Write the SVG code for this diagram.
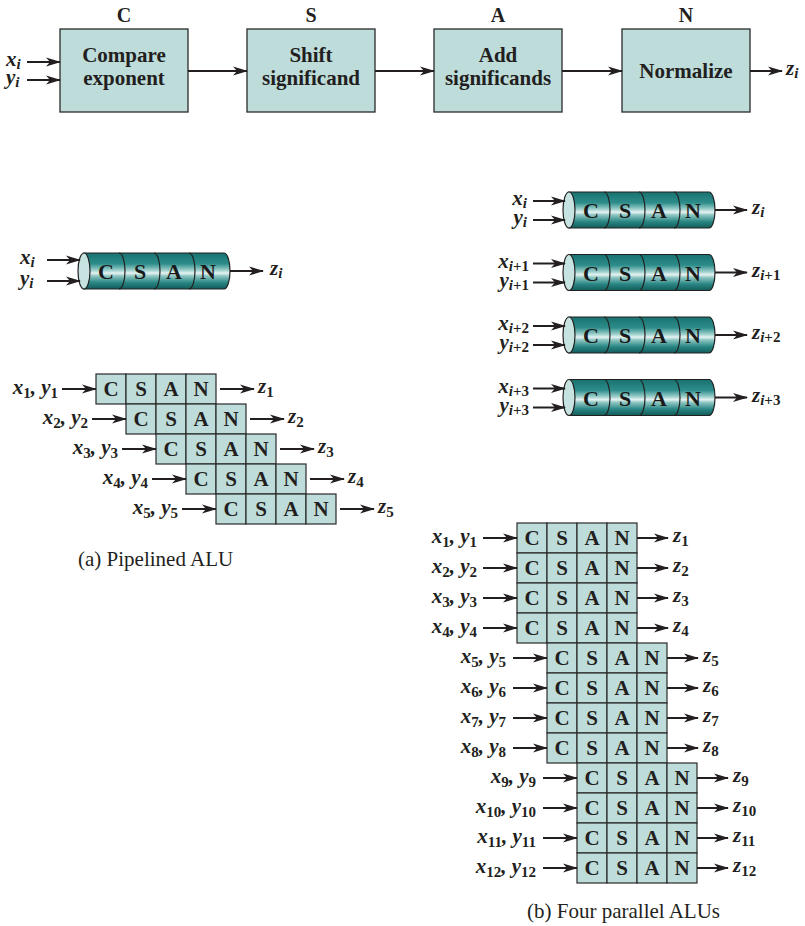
<svg xmlns="http://www.w3.org/2000/svg" width="805" height="926" viewBox="0 0 805 926">
<style>
.bx{fill:#bddcda;stroke:#2a2a2a;stroke-width:1.3}
.cell{fill:#bddcda;stroke:#2a2a2a;stroke-width:1.2}
.b{font-family:"Liberation Serif","Times New Roman",serif;font-weight:bold;font-size:21px;text-anchor:middle;fill:#231f20}
.bc{font-family:"Liberation Serif","Times New Roman",serif;font-weight:bold;font-size:22px;text-anchor:middle;fill:#1a1a1a}
.h{font-family:"Liberation Serif","Times New Roman",serif;font-weight:bold;font-size:20px;text-anchor:middle;fill:#231f20}
.v{font-family:"Liberation Serif","Times New Roman",serif;font-style:italic;font-weight:bold;font-size:21px;fill:#231f20}
.s{font-size:15px;font-style:normal}
.si{font-size:15px}
.cap{font-family:"Liberation Serif","Times New Roman",serif;font-size:21px;fill:#231f20}
.ar{stroke:#231f20;stroke-width:2;fill:none;marker-end:url(#ah)}
.cs{stroke:#222;stroke-width:1.2}
</style>
<defs>
<marker id="ah" markerWidth="15" markerHeight="10" refX="14" refY="5" orient="auto" markerUnits="userSpaceOnUse">
<path d="M0,0.5 L15,5 L0,9.5 L4,5 Z" fill="#231f20"/>
</marker>
<linearGradient id="cg" x1="0" y1="0" x2="0" y2="1">
<stop offset="0" stop-color="#17716f"/>
<stop offset="0.3" stop-color="#2d8d8a"/>
<stop offset="0.48" stop-color="#9fd0cd"/>
<stop offset="0.56" stop-color="#e6f3f2"/>
<stop offset="0.64" stop-color="#8cc5c2"/>
<stop offset="0.82" stop-color="#2a8784"/>
<stop offset="1" stop-color="#115b59"/>
</linearGradient>
<g id="cylshape">
<path d="M6,-18 H146 A6,18 0 0 1 146,18 H6 Z" fill="url(#cg)" class="cs"/>
<path d="M41,-18 A6,18 0 0 1 41,18 M76,-18 A6,18 0 0 1 76,18 M111,-18 A6,18 0 0 1 111,18" fill="none" class="cs"/>
<ellipse cx="6" cy="0" rx="6" ry="18" fill="#c6e3e1" class="cs"/>
</g>
<g id="row4">
<rect class="cell" x="0" y="0" width="30" height="30"/>
<rect class="cell" x="30" y="0" width="30" height="30"/>
<rect class="cell" x="60" y="0" width="30" height="30"/>
<rect class="cell" x="90" y="0" width="30" height="30"/>
</g>
</defs>
<rect width="805" height="926" fill="#ffffff"/>

<!-- Top sequential pipeline -->
<g id="top-headers">
<text class="h" x="124" y="22">C</text>
<text class="h" x="311" y="22">S</text>
<text class="h" x="498" y="22">A</text>
<text class="h" x="686" y="22">N</text>
</g>
<g id="box-compare">
<rect class="bx" x="60" y="29" width="128" height="83"/>
<text class="b" x="124" y="62">Compare</text>
<text class="b" x="124" y="85">exponent</text>
</g>
<g id="box-shift">
<rect class="bx" x="247" y="29" width="128" height="83"/>
<text class="b" x="311" y="62">Shift</text>
<text class="b" x="311" y="85">significand</text>
</g>
<g id="box-add">
<rect class="bx" x="434" y="29" width="128" height="83"/>
<text class="b" x="498" y="62">Add</text>
<text class="b" x="498" y="85">significands</text>
</g>
<g id="box-normalize">
<rect class="bx" x="622" y="29" width="128" height="83"/>
<text class="b" x="686" y="78">Normalize</text>
</g>

<!-- Single cylinder -->
<g id="cyl-single" transform="translate(78,271)">
<use href="#cylshape"/>
<text class="bc" x="28" y="8">C</text>
<text class="bc" x="62" y="8">S</text>
<text class="bc" x="96" y="8">A</text>
<text class="bc" x="130" y="8">N</text>
</g>

<!-- Parallel cylinders -->
<g id="cyl-p0" transform="translate(563,210)">
<use href="#cylshape"/>
<text class="bc" x="28" y="8">C</text><text class="bc" x="62" y="8">S</text><text class="bc" x="96" y="8">A</text><text class="bc" x="130" y="8">N</text>
</g>
<g id="cyl-p1" transform="translate(563,272.5)">
<use href="#cylshape"/>
<text class="bc" x="28" y="8">C</text><text class="bc" x="62" y="8">S</text><text class="bc" x="96" y="8">A</text><text class="bc" x="130" y="8">N</text>
</g>
<g id="cyl-p2" transform="translate(563,335)">
<use href="#cylshape"/>
<text class="bc" x="28" y="8">C</text><text class="bc" x="62" y="8">S</text><text class="bc" x="96" y="8">A</text><text class="bc" x="130" y="8">N</text>
</g>
<g id="cyl-p3" transform="translate(563,397.5)">
<use href="#cylshape"/>
<text class="bc" x="28" y="8">C</text><text class="bc" x="62" y="8">S</text><text class="bc" x="96" y="8">A</text><text class="bc" x="130" y="8">N</text>
</g>

<!-- Pipelined ALU rows -->
<g id="pipe-1" transform="translate(96,374)"><use href="#row4"/><text class="b" x="15" y="22">C</text><text class="b" x="45" y="22">S</text><text class="b" x="75" y="22">A</text><text class="b" x="105" y="22">N</text></g>
<g id="pipe-2" transform="translate(126,404)"><use href="#row4"/><text class="b" x="15" y="22">C</text><text class="b" x="45" y="22">S</text><text class="b" x="75" y="22">A</text><text class="b" x="105" y="22">N</text></g>
<g id="pipe-3" transform="translate(156,434)"><use href="#row4"/><text class="b" x="15" y="22">C</text><text class="b" x="45" y="22">S</text><text class="b" x="75" y="22">A</text><text class="b" x="105" y="22">N</text></g>
<g id="pipe-4" transform="translate(186,464)"><use href="#row4"/><text class="b" x="15" y="22">C</text><text class="b" x="45" y="22">S</text><text class="b" x="75" y="22">A</text><text class="b" x="105" y="22">N</text></g>
<g id="pipe-5" transform="translate(216,494)"><use href="#row4"/><text class="b" x="15" y="22">C</text><text class="b" x="45" y="22">S</text><text class="b" x="75" y="22">A</text><text class="b" x="105" y="22">N</text></g>

<!-- Four parallel ALUs rows -->
<g id="par-1" transform="translate(517,523)"><use href="#row4"/><text class="b" x="15" y="22">C</text><text class="b" x="45" y="22">S</text><text class="b" x="75" y="22">A</text><text class="b" x="105" y="22">N</text></g>
<g id="par-2" transform="translate(517,553)"><use href="#row4"/><text class="b" x="15" y="22">C</text><text class="b" x="45" y="22">S</text><text class="b" x="75" y="22">A</text><text class="b" x="105" y="22">N</text></g>
<g id="par-3" transform="translate(517,583)"><use href="#row4"/><text class="b" x="15" y="22">C</text><text class="b" x="45" y="22">S</text><text class="b" x="75" y="22">A</text><text class="b" x="105" y="22">N</text></g>
<g id="par-4" transform="translate(517,613)"><use href="#row4"/><text class="b" x="15" y="22">C</text><text class="b" x="45" y="22">S</text><text class="b" x="75" y="22">A</text><text class="b" x="105" y="22">N</text></g>
<g id="par-5" transform="translate(547,643)"><use href="#row4"/><text class="b" x="15" y="22">C</text><text class="b" x="45" y="22">S</text><text class="b" x="75" y="22">A</text><text class="b" x="105" y="22">N</text></g>
<g id="par-6" transform="translate(547,673)"><use href="#row4"/><text class="b" x="15" y="22">C</text><text class="b" x="45" y="22">S</text><text class="b" x="75" y="22">A</text><text class="b" x="105" y="22">N</text></g>
<g id="par-7" transform="translate(547,703)"><use href="#row4"/><text class="b" x="15" y="22">C</text><text class="b" x="45" y="22">S</text><text class="b" x="75" y="22">A</text><text class="b" x="105" y="22">N</text></g>
<g id="par-8" transform="translate(547,733)"><use href="#row4"/><text class="b" x="15" y="22">C</text><text class="b" x="45" y="22">S</text><text class="b" x="75" y="22">A</text><text class="b" x="105" y="22">N</text></g>
<g id="par-9" transform="translate(577,763)"><use href="#row4"/><text class="b" x="15" y="22">C</text><text class="b" x="45" y="22">S</text><text class="b" x="75" y="22">A</text><text class="b" x="105" y="22">N</text></g>
<g id="par-10" transform="translate(577,793)"><use href="#row4"/><text class="b" x="15" y="22">C</text><text class="b" x="45" y="22">S</text><text class="b" x="75" y="22">A</text><text class="b" x="105" y="22">N</text></g>
<g id="par-11" transform="translate(577,823)"><use href="#row4"/><text class="b" x="15" y="22">C</text><text class="b" x="45" y="22">S</text><text class="b" x="75" y="22">A</text><text class="b" x="105" y="22">N</text></g>
<g id="par-12" transform="translate(577,853)"><use href="#row4"/><text class="b" x="15" y="22">C</text><text class="b" x="45" y="22">S</text><text class="b" x="75" y="22">A</text><text class="b" x="105" y="22">N</text></g>

<!-- Connectors -->
<g id="connectors">
<line class="ar" x1="27" y1="62" x2="60" y2="62"/>
<line class="ar" x1="27" y1="80" x2="60" y2="80"/>
<line class="ar" x1="188" y1="71" x2="247" y2="71"/>
<line class="ar" x1="375" y1="71" x2="434" y2="71"/>
<line class="ar" x1="562" y1="71" x2="622" y2="71"/>
<line class="ar" x1="750" y1="71" x2="782" y2="71"/>

<line class="ar" x1="47" y1="260" x2="80" y2="260"/>
<line class="ar" x1="47" y1="281" x2="80" y2="281"/>
<line class="ar" x1="230" y1="271" x2="263" y2="271"/>

<line class="ar" x1="533" y1="201" x2="565" y2="201"/>
<line class="ar" x1="533" y1="220" x2="565" y2="220"/>
<line class="ar" x1="715" y1="210" x2="747" y2="210"/>
<line class="ar" x1="533" y1="263.5" x2="565" y2="263.5"/>
<line class="ar" x1="533" y1="282.5" x2="565" y2="282.5"/>
<line class="ar" x1="715" y1="272.5" x2="747" y2="272.5"/>
<line class="ar" x1="533" y1="326" x2="565" y2="326"/>
<line class="ar" x1="533" y1="345" x2="565" y2="345"/>
<line class="ar" x1="715" y1="335" x2="747" y2="335"/>
<line class="ar" x1="533" y1="388.5" x2="565" y2="388.5"/>
<line class="ar" x1="533" y1="407.5" x2="565" y2="407.5"/>
<line class="ar" x1="715" y1="397.5" x2="747" y2="397.5"/>

<line class="ar" x1="62" y1="389" x2="96" y2="389"/><line class="ar" x1="220" y1="389" x2="254" y2="389"/>
<line class="ar" x1="92" y1="419" x2="126" y2="419"/><line class="ar" x1="250" y1="419" x2="284" y2="419"/>
<line class="ar" x1="122" y1="449" x2="156" y2="449"/><line class="ar" x1="280" y1="449" x2="314" y2="449"/>
<line class="ar" x1="152" y1="479" x2="186" y2="479"/><line class="ar" x1="310" y1="479" x2="344" y2="479"/>
<line class="ar" x1="182" y1="509" x2="216" y2="509"/><line class="ar" x1="340" y1="509" x2="374" y2="509"/>

<line class="ar" x1="483" y1="538" x2="517" y2="538"/><line class="ar" x1="637" y1="538" x2="668" y2="538"/>
<line class="ar" x1="483" y1="568" x2="517" y2="568"/><line class="ar" x1="637" y1="568" x2="668" y2="568"/>
<line class="ar" x1="483" y1="598" x2="517" y2="598"/><line class="ar" x1="637" y1="598" x2="668" y2="598"/>
<line class="ar" x1="483" y1="628" x2="517" y2="628"/><line class="ar" x1="637" y1="628" x2="668" y2="628"/>
<line class="ar" x1="513" y1="658" x2="547" y2="658"/><line class="ar" x1="667" y1="658" x2="698" y2="658"/>
<line class="ar" x1="513" y1="688" x2="547" y2="688"/><line class="ar" x1="667" y1="688" x2="698" y2="688"/>
<line class="ar" x1="513" y1="718" x2="547" y2="718"/><line class="ar" x1="667" y1="718" x2="698" y2="718"/>
<line class="ar" x1="513" y1="748" x2="547" y2="748"/><line class="ar" x1="667" y1="748" x2="698" y2="748"/>
<line class="ar" x1="543" y1="778" x2="577" y2="778"/><line class="ar" x1="697" y1="778" x2="728" y2="778"/>
<line class="ar" x1="543" y1="808" x2="577" y2="808"/><line class="ar" x1="697" y1="808" x2="728" y2="808"/>
<line class="ar" x1="543" y1="838" x2="577" y2="838"/><line class="ar" x1="697" y1="838" x2="728" y2="838"/>
<line class="ar" x1="543" y1="868" x2="577" y2="868"/><line class="ar" x1="697" y1="868" x2="728" y2="868"/>
</g>

<!-- Labels -->
<g id="labels">
<text class="v" x="6" y="66">x<tspan class="si" dy="3">i</tspan></text>
<text class="v" x="6" y="84">y<tspan class="si" dy="3">i</tspan></text>
<text class="v" x="786" y="75">z<tspan class="si" dy="3">i</tspan></text>

<text class="v" x="20" y="264">x<tspan class="si" dy="3">i</tspan></text>
<text class="v" x="20" y="285">y<tspan class="si" dy="3">i</tspan></text>
<text class="v" x="270" y="275">z<tspan class="si" dy="3">i</tspan></text>

<text class="v" x="527" y="205" text-anchor="end">x<tspan class="si" dy="3">i</tspan></text>
<text class="v" x="527" y="224" text-anchor="end">y<tspan class="si" dy="3">i</tspan></text>
<text class="v" x="752" y="214">z<tspan class="si" dy="3">i</tspan></text>
<text class="v" x="529" y="267.5" text-anchor="end">x<tspan class="si" dy="3">i</tspan><tspan class="s">+1</tspan></text>
<text class="v" x="529" y="286.5" text-anchor="end">y<tspan class="si" dy="3">i</tspan><tspan class="s">+1</tspan></text>
<text class="v" x="752" y="276.5">z<tspan class="si" dy="3">i</tspan><tspan class="s">+1</tspan></text>
<text class="v" x="529" y="330" text-anchor="end">x<tspan class="si" dy="3">i</tspan><tspan class="s">+2</tspan></text>
<text class="v" x="529" y="349" text-anchor="end">y<tspan class="si" dy="3">i</tspan><tspan class="s">+2</tspan></text>
<text class="v" x="752" y="339">z<tspan class="si" dy="3">i</tspan><tspan class="s">+2</tspan></text>
<text class="v" x="529" y="392.5" text-anchor="end">x<tspan class="si" dy="3">i</tspan><tspan class="s">+3</tspan></text>
<text class="v" x="529" y="411.5" text-anchor="end">y<tspan class="si" dy="3">i</tspan><tspan class="s">+3</tspan></text>
<text class="v" x="752" y="401.5">z<tspan class="si" dy="3">i</tspan><tspan class="s">+3</tspan></text>

<text class="v" x="58" y="394" text-anchor="end">x<tspan class="s" dy="4">1</tspan><tspan dy="-4">, y</tspan><tspan class="s" dy="4">1</tspan></text>
<text class="v" x="88" y="424" text-anchor="end">x<tspan class="s" dy="4">2</tspan><tspan dy="-4">, y</tspan><tspan class="s" dy="4">2</tspan></text>
<text class="v" x="118" y="454" text-anchor="end">x<tspan class="s" dy="4">3</tspan><tspan dy="-4">, y</tspan><tspan class="s" dy="4">3</tspan></text>
<text class="v" x="148" y="484" text-anchor="end">x<tspan class="s" dy="4">4</tspan><tspan dy="-4">, y</tspan><tspan class="s" dy="4">4</tspan></text>
<text class="v" x="178" y="514" text-anchor="end">x<tspan class="s" dy="4">5</tspan><tspan dy="-4">, y</tspan><tspan class="s" dy="4">5</tspan></text>
<text class="v" x="258" y="393">z<tspan class="s" dy="4">1</tspan></text>
<text class="v" x="288" y="423">z<tspan class="s" dy="4">2</tspan></text>
<text class="v" x="318" y="453">z<tspan class="s" dy="4">3</tspan></text>
<text class="v" x="348" y="483">z<tspan class="s" dy="4">4</tspan></text>
<text class="v" x="378" y="513">z<tspan class="s" dy="4">5</tspan></text>

<text class="v" x="477" y="543" text-anchor="end">x<tspan class="s" dy="4">1</tspan><tspan dy="-4">, y</tspan><tspan class="s" dy="4">1</tspan></text>
<text class="v" x="477" y="573" text-anchor="end">x<tspan class="s" dy="4">2</tspan><tspan dy="-4">, y</tspan><tspan class="s" dy="4">2</tspan></text>
<text class="v" x="477" y="603" text-anchor="end">x<tspan class="s" dy="4">3</tspan><tspan dy="-4">, y</tspan><tspan class="s" dy="4">3</tspan></text>
<text class="v" x="477" y="633" text-anchor="end">x<tspan class="s" dy="4">4</tspan><tspan dy="-4">, y</tspan><tspan class="s" dy="4">4</tspan></text>
<text class="v" x="506" y="663" text-anchor="end">x<tspan class="s" dy="4">5</tspan><tspan dy="-4">, y</tspan><tspan class="s" dy="4">5</tspan></text>
<text class="v" x="506" y="693" text-anchor="end">x<tspan class="s" dy="4">6</tspan><tspan dy="-4">, y</tspan><tspan class="s" dy="4">6</tspan></text>
<text class="v" x="506" y="723" text-anchor="end">x<tspan class="s" dy="4">7</tspan><tspan dy="-4">, y</tspan><tspan class="s" dy="4">7</tspan></text>
<text class="v" x="506" y="753" text-anchor="end">x<tspan class="s" dy="4">8</tspan><tspan dy="-4">, y</tspan><tspan class="s" dy="4">8</tspan></text>
<text class="v" x="536" y="783" text-anchor="end">x<tspan class="s" dy="4">9</tspan><tspan dy="-4">, y</tspan><tspan class="s" dy="4">9</tspan></text>
<text class="v" x="536" y="813" text-anchor="end">x<tspan class="s" dy="4">10</tspan><tspan dy="-4">, y</tspan><tspan class="s" dy="4">10</tspan></text>
<text class="v" x="536" y="843" text-anchor="end">x<tspan class="s" dy="4">11</tspan><tspan dy="-4">, y</tspan><tspan class="s" dy="4">11</tspan></text>
<text class="v" x="536" y="873" text-anchor="end">x<tspan class="s" dy="4">12</tspan><tspan dy="-4">, y</tspan><tspan class="s" dy="4">12</tspan></text>

<text class="v" x="673" y="542">z<tspan class="s" dy="4">1</tspan></text>
<text class="v" x="673" y="572">z<tspan class="s" dy="4">2</tspan></text>
<text class="v" x="673" y="602">z<tspan class="s" dy="4">3</tspan></text>
<text class="v" x="673" y="632">z<tspan class="s" dy="4">4</tspan></text>
<text class="v" x="703" y="662">z<tspan class="s" dy="4">5</tspan></text>
<text class="v" x="703" y="692">z<tspan class="s" dy="4">6</tspan></text>
<text class="v" x="703" y="722">z<tspan class="s" dy="4">7</tspan></text>
<text class="v" x="703" y="752">z<tspan class="s" dy="4">8</tspan></text>
<text class="v" x="733" y="782">z<tspan class="s" dy="4">9</tspan></text>
<text class="v" x="733" y="812">z<tspan class="s" dy="4">10</tspan></text>
<text class="v" x="733" y="842">z<tspan class="s" dy="4">11</tspan></text>
<text class="v" x="733" y="872">z<tspan class="s" dy="4">12</tspan></text>
</g>

<g id="captions">
<text class="cap" x="78" y="566">(a) Pipelined ALU</text>
<text class="cap" x="527" y="918">(b) Four parallel ALUs</text>
</g>
</svg>
